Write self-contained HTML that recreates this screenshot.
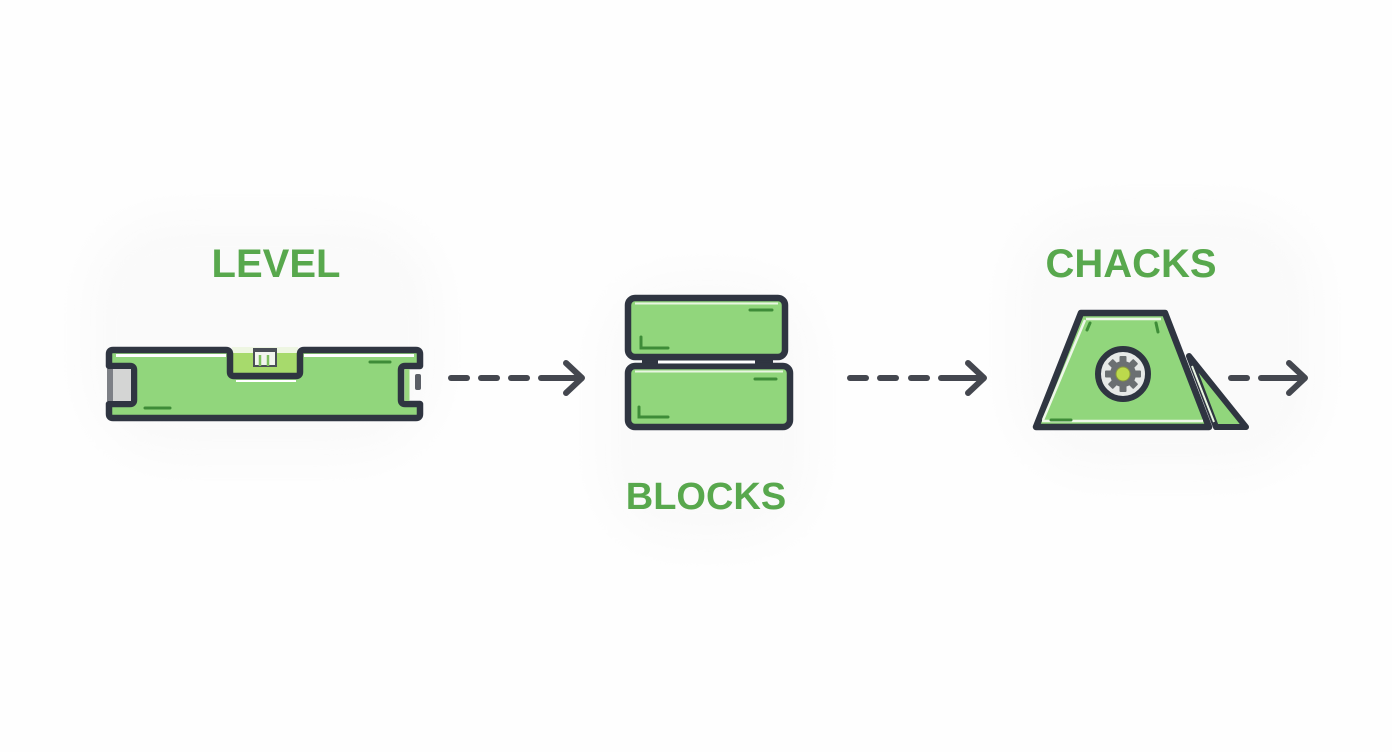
<!DOCTYPE html>
<html>
<head>
<meta charset="utf-8">
<style>
  html, body { margin: 0; padding: 0; background: #fefefe; }
  body { width: 1392px; height: 752px; overflow: hidden; position: relative; }
  svg { position: absolute; left: 0; top: 0; }
  .lbl { font-family: "Liberation Sans", "DejaVu Sans", sans-serif; font-weight: bold; fill: #58a84d; }
</style>
</head>
<body>
<svg width="1392" height="752" viewBox="0 0 1392 752" xmlns="http://www.w3.org/2000/svg">
  <defs>
    <filter id="blur" x="-30%" y="-30%" width="160%" height="160%">
      <feGaussianBlur stdDeviation="20"/>
    </filter>
  </defs>
  <rect width="1392" height="752" fill="#fefefe"/>

  <!-- faint halos -->
  <g filter="url(#blur)" fill="#fafafa">
    <rect x="85" y="215" width="355" height="245" rx="90"/>
    <rect x="600" y="275" width="215" height="270" rx="80"/>
    <rect x="1010" y="205" width="310" height="270" rx="90"/>
  </g>

  <!-- ============ LEVEL ============ -->
  <text class="lbl" x="276" y="277" font-size="40" text-anchor="middle">LEVEL</text>

  <!-- notch interior (pale green) -->
  <rect x="232" y="347" width="66" height="27" fill="#a7da6c"/>
  <rect x="232" y="347" width="66" height="6" fill="#eef6e2"/>
  <!-- vial -->
  <rect x="254" y="350" width="22" height="16" fill="#f2f5ef" stroke="#4a4f57" stroke-width="2"/>
  <line x1="260" y1="355" x2="260" y2="366" stroke="#7fc05e" stroke-width="2.5"/>
  <line x1="268" y1="355" x2="268" y2="366" stroke="#7fc05e" stroke-width="2.5"/>
  <rect x="253" y="348" width="24" height="4" fill="#4a4f57"/>

  <!-- body -->
  <path d="M113,350 H226 Q230,350 230,354 V372 Q230,376 234,376 H296 Q300,376 300,372 V354 Q300,350 304,350 H416 Q420,350 420,354 V366 H405 Q401,366 401,370 V400 Q401,404 405,404 H420 V414 Q420,418 416,418 H113 Q109,418 109,414 V404 H130 Q134,404 134,400 V370 Q134,366 130,366 H109 V354 Q109,350 113,350 Z"
        fill="#91d67c" stroke="#2f3541" stroke-width="6.5" stroke-linejoin="round"/>
  <!-- left cap in notch -->
  <rect x="112" y="369" width="19" height="32" fill="#d4d5d4"/>
  <rect x="107" y="369" width="6" height="32" fill="#7d8086"/>
  <!-- right notch details -->
  <rect x="404.5" y="369" width="5" height="32" fill="#9ad67f"/>
  <rect x="415" y="374" width="6" height="16" rx="2" fill="#5b5f66"/>
  <!-- highlights -->
  <line x1="116" y1="355.5" x2="226" y2="355.5" stroke="#ffffff" stroke-width="3"/>
  <line x1="304" y1="355.5" x2="414" y2="355.5" stroke="#ffffff" stroke-width="3"/>
  <line x1="236" y1="381" x2="296" y2="381" stroke="#ffffff" stroke-width="2"/>
  <!-- accents -->
  <line x1="370" y1="362" x2="390" y2="362" stroke="#3e8c38" stroke-width="3" stroke-linecap="round"/>
  <line x1="145" y1="408" x2="170" y2="408" stroke="#3e8c38" stroke-width="3" stroke-linecap="round"/>

  <!-- ============ ARROWS ============ -->
  <g stroke="#44474f" stroke-width="6" stroke-linecap="round" stroke-linejoin="round" fill="none">
    <!-- arrow 1 -->
    <line x1="451" y1="378" x2="467" y2="378"/>
    <line x1="481" y1="378" x2="497" y2="378"/>
    <line x1="511" y1="378" x2="527" y2="378"/>
    <line x1="541" y1="378" x2="581" y2="378"/>
    <polyline points="566,363 582,378 566,393"/>
    <!-- arrow 2 -->
    <line x1="850" y1="378" x2="866" y2="378"/>
    <line x1="880" y1="378" x2="896" y2="378"/>
    <line x1="911" y1="378" x2="927" y2="378"/>
    <line x1="941" y1="378" x2="983" y2="378"/>
    <polyline points="968,363 984,378 968,393"/>
    <!-- arrow 3 -->
    <line x1="1231" y1="378" x2="1247" y2="378"/>
    <line x1="1261" y1="378" x2="1303" y2="378"/>
    <polyline points="1289,363 1305,378 1289,393"/>
  </g>

  <!-- ============ BLOCKS ============ -->
  <rect x="642" y="357" width="131" height="10" fill="#2f3541"/>
  <rect x="628" y="298" width="157" height="59" rx="7" fill="#91d67c" stroke="#2f3541" stroke-width="6.5"/>
  <rect x="628" y="366" width="162" height="61" rx="7" fill="#91d67c" stroke="#2f3541" stroke-width="6.5"/>
  <line x1="658" y1="362" x2="755" y2="362" stroke="#ffffff" stroke-width="3"/>
  <line x1="635" y1="303.5" x2="778" y2="303.5" stroke="#e9f5e2" stroke-width="2"/>
  <line x1="635" y1="371.5" x2="783" y2="371.5" stroke="#e9f5e2" stroke-width="2"/>
  <g stroke="#3e8c38" stroke-width="3" stroke-linecap="round" fill="none">
    <line x1="750" y1="310" x2="772" y2="310"/>
    <polyline points="641,337 641,348 668,348"/>
    <line x1="755" y1="379" x2="776" y2="379"/>
    <polyline points="639,407 639,417 668,417"/>
  </g>
  <text class="lbl" x="706" y="509" font-size="38" text-anchor="middle">BLOCKS</text>

  <!-- ============ CHACKS ============ -->
  <text class="lbl" x="1131" y="277" font-size="40" text-anchor="middle">CHACKS</text>

  <!-- wedge behind -->
  <path d="M1189,356 L1246,427 L1216,427 Z" fill="#91d67c" stroke="#2f3541" stroke-width="6" stroke-linejoin="round"/>
  <line x1="1192" y1="366" x2="1214" y2="422" stroke="#e9f5e2" stroke-width="2"/>
  <!-- trapezoid -->
  <path d="M1081,313 L1165,313 L1209,427 L1036,427 Z" fill="#91d67c" stroke="#2f3541" stroke-width="6.5" stroke-linejoin="round"/>
  <path d="M1086,319 L1161,319 M1042,421 L1203,421" stroke="#eef7e8" stroke-width="2.5" fill="none"/>
  <line x1="1085" y1="320" x2="1043" y2="420" stroke="#eef7e8" stroke-width="2.5"/>
  <g stroke="#3e8c38" stroke-width="3" stroke-linecap="round">
    <line x1="1090" y1="323" x2="1087" y2="330"/>
    <line x1="1156" y1="323" x2="1158" y2="332"/>
    <line x1="1051" y1="420" x2="1071" y2="420"/>
  </g>
  <!-- gear badge -->
  <circle cx="1123" cy="374" r="25" fill="#e7e9e8" stroke="#2f3541" stroke-width="6"/>
  <g transform="translate(1123,374)" fill="#6b6f72">
    <circle r="13"/>
    <rect x="-3.5" y="-18" width="7" height="8" rx="1" transform="rotate(0)"/>
    <rect x="-3.5" y="-18" width="7" height="8" rx="1" transform="rotate(45)"/>
    <rect x="-3.5" y="-18" width="7" height="8" rx="1" transform="rotate(90)"/>
    <rect x="-3.5" y="-18" width="7" height="8" rx="1" transform="rotate(135)"/>
    <rect x="-3.5" y="-18" width="7" height="8" rx="1" transform="rotate(180)"/>
    <rect x="-3.5" y="-18" width="7" height="8" rx="1" transform="rotate(225)"/>
    <rect x="-3.5" y="-18" width="7" height="8" rx="1" transform="rotate(270)"/>
    <rect x="-3.5" y="-18" width="7" height="8" rx="1" transform="rotate(315)"/>
  </g>
  <circle cx="1123" cy="374" r="7" fill="#bcd94c" stroke="#8a9a3a" stroke-width="1"/>
</svg>
</body>
</html>
